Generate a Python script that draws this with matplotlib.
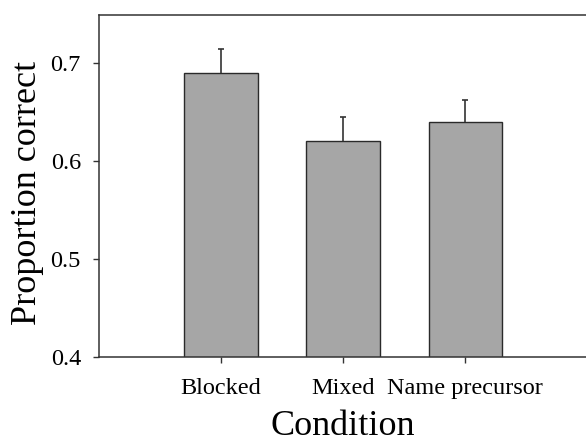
import matplotlib
matplotlib.use("Agg")
import matplotlib.pyplot as plt
import numpy as np

# data
conditions = ["Blocked", "Mixed", "Name precursor"]
prop_correct = [0.69, 0.62, 0.64]
sem = [0.024, 0.025, 0.022]
yticks = [0.4, 0.5, 0.6, 0.7]

plt.rcParams['font.family'] = ['Liberation Serif', 'DejaVu Serif']

fig = plt.figure(figsize=(5.86, 4.44), dpi=100)
ax = fig.add_axes([99 / 586, (444 - 357) / 444, 1 - 99 / 586 + 0.002, (357 - 15) / 444])

x = np.arange(1, len(conditions) + 1)
ax.bar(x, prop_correct, width=0.6, color='#a6a6a6', edgecolor='#2a2a2a', linewidth=1.0, zorder=2)

# only the upper half of the error bar shows: stem + top cap
tops = np.array(prop_correct) + np.array(sem)
ax.vlines(x, prop_correct, tops, color='#333333', linewidth=1.2, zorder=3)
ax.plot(x, tops, linestyle='none', marker='_', markersize=5, markeredgewidth=1.2,
        color='#333333', zorder=3)

ax.set_xlim(0, 4)
ax.set_ylim(0.4, 0.749)
ax.set_xticks(x)
ax.set_xticklabels(conditions)
ax.set_yticks(yticks)
ax.set_yticklabels([f"{v:.1f}" for v in yticks])

for side in ['left', 'bottom', 'top', 'right']:
    ax.spines[side].set_color('#333333')
    ax.spines[side].set_linewidth(1.1)
ax.spines['right'].set_visible(False)

ax.tick_params(axis='both', direction='out', length=4, width=1, color='#333333', labelsize=17.5)
ax.tick_params(axis='x', pad=11)
ax.tick_params(axis='y', pad=9)

ax.set_xlabel("Condition", fontsize=26, labelpad=8)
ax.set_ylabel("Proportion correct", fontsize=26, labelpad=5)
ax.yaxis.label.set_y(0.48)

fig.savefig("out.png", dpi=100)
